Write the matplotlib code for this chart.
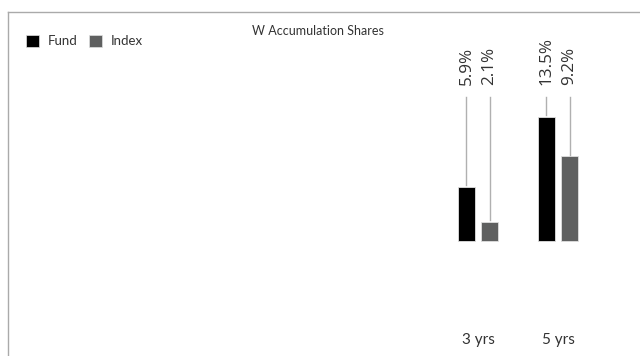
import matplotlib
matplotlib.use('Agg')
import matplotlib.pyplot as plt
from matplotlib.patches import Patch
import numpy as np

plt.rcParams['font.family'] = ['Lato', 'DejaVu Sans']

# data
categories = ['3 yrs', '5 yrs']
fund = [5.9, 13.5]
index = [2.1, 9.2]
series_names = ['Fund', 'Index']
title = 'W Accumulation Shares'

FUND_COLOR = '#000000'
INDEX_COLOR = '#5f6060'
TEXT_COLOR = '#333333'
LINE_COLOR = '#b0b0b0'

W, H, DPI = 640, 356, 100
fig = plt.figure(figsize=(W / DPI, H / DPI), dpi=DPI)

# axes covers the framed area (left border at x=8, top border at y=12)
ax = fig.add_axes([8 / W, 0, (W - 8) / W, (H - 12) / H])

px_per_unit_x = 80.0
x0_px = 478.0
ax.set_xlim(-(x0_px - 8) / px_per_unit_x, (W - x0_px) / px_per_unit_x)
px_per_pct = 9.19
base_px = 241.0
ax.set_ylim(-(H - base_px) / px_per_pct, (base_px - 12) / px_per_pct)

x = np.arange(len(categories))
bw = 0.2125
off = 0.144
ax.bar(x - off, fund, width=bw, color=FUND_COLOR, edgecolor='#e0e0e0', linewidth=0.6)
ax.bar(x + off, index, width=bw, color=INDEX_COLOR, edgecolor='#e0e0e0', linewidth=0.6)

# value labels sit at a fixed height, joined to the bar tops by leader lines
label_y = 17.0
line_top = 15.67
for xs, vals in [(x - off, fund), (x + off, index)]:
    for xi, v in zip(xs, vals):
        ax.plot([xi, xi], [v + 0.2, line_top], color=LINE_COLOR, lw=1.0)
        ax.text(xi, label_y, f'{v}%', rotation=90, ha='center', va='bottom',
                fontsize=12.3, color=TEXT_COLOR, family=['Open Sans', 'DejaVu Sans'])

for xi, c in zip(x, categories):
    ax.text(xi, -10.8, c, ha='center', va='center', fontsize=11, color=TEXT_COLOR)

ax.set_xticks([])
ax.set_yticks([])
for s in ['right', 'bottom']:
    ax.spines[s].set_visible(False)
for s in ['top', 'left']:
    ax.spines[s].set_color('#aaaaaa')
    ax.spines[s].set_linewidth(1.0)

fig.text(318 / W, 1 - 31 / H, title, ha='center', va='center', fontsize=9, color=TEXT_COLOR)

handles = [Patch(facecolor=FUND_COLOR, edgecolor='#e0e0e0', linewidth=0.5),
           Patch(facecolor=INDEX_COLOR, edgecolor='#e0e0e0', linewidth=0.5)]
fig.legend(handles, series_names, loc='center left', bbox_to_anchor=(26 / W, 1 - 41 / H),
           ncol=2, frameon=False, fontsize=9.5, handlelength=0.95, handleheight=1.0,
           handletextpad=0.7, columnspacing=0.9, borderaxespad=0, borderpad=0,
           labelcolor=TEXT_COLOR)

fig.savefig('out.png', dpi=DPI)
